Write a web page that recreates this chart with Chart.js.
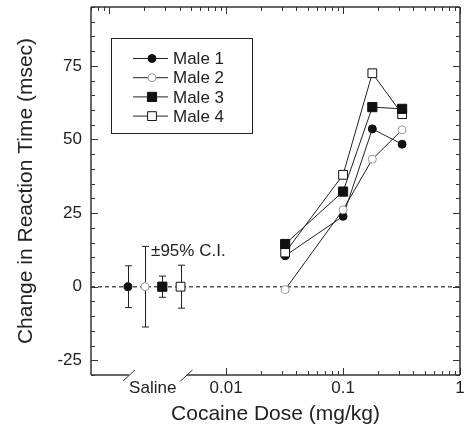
<!DOCTYPE html>
<html>
<head>
<meta charset="utf-8">
<script src="https://cdn.jsdelivr.net/npm/chart.js@4.4.0/dist/chart.umd.min.js"></script>
<style>
  html, body { margin: 0; padding: 0; background: #fff; }
  #wrap { width: 464px; height: 428px; }
</style>
</head>
<body>
<div id="wrap"><canvas id="chart" width="464" height="428"></canvas></div>
<script>
// dose-response data (mg/kg)
const doses = [0.032, 0.1, 0.178, 0.32];
const male1 = [10.5, 23.9, 53.6, 48.4];
const male2 = [-1, 26.1, 43.3, 53.3];
const male3 = [14.5, 32.3, 61, 60.4];
const male4 = [11.6, 38, 72.5, 58.6];
const seriesNames = ['Male 1', 'Male 2', 'Male 3', 'Male 4'];

// saline points sit on the broken left part of the axis
const salineX = [0.00145, 0.00203, 0.00285, 0.00408];
const salineMean = [0, 0, 0, 0];
const salineCI = [7.1, 13.7, 3.6, 7.3];
const ciLabel = '\u00b195% C.I.';

const xTickValues = [0.00236, 0.01, 0.1, 1];
const xTickLabels = ['Saline', '0.01', '0.1', '1'];
const axisBreaks = [0.00148, 0.00459];
const yTickValues = [-25, 0, 25, 50, 75];

const FONT = "'Liberation Sans', Arial, sans-serif";
const INK = '#222';

const markerStyles = [
    { pointStyle: 'circle', radius: 4, bg: '#111', border: '#111', order: 4 },
    { pointStyle: 'circle', radius: 4, bg: '#fff', border: '#999', order: 3 },
    { pointStyle: 'rect', radius: 6.5, bg: '#111', border: '#111', order: 1 },
    { pointStyle: 'rect', radius: 6.2, bg: '#fff', border: '#111', order: 2 }
];

const allSeries = [male1, male2, male3, male4];
const datasets = [];
allSeries.forEach((vals, i) => {
    const st = markerStyles[i];
    const common = {
        pointStyle: st.pointStyle,
        pointRadius: st.radius,
        pointHoverRadius: st.radius,
        pointBackgroundColor: st.bg,
        pointBorderColor: st.border,
        pointBorderWidth: 1,
        borderColor: '#222',
        borderWidth: 1,
        order: st.order
    };
    datasets.push(Object.assign({
        label: seriesNames[i],
        data: doses.map((d, j) => ({ x: d, y: vals[j] })),
        showLine: true
    }, common));
    datasets.push(Object.assign({
        label: seriesNames[i] + ' saline',
        data: [{ x: salineX[i], y: salineMean[i] }],
        showLine: false
    }, common));
});

function line(ctx, x1, y1, x2, y2) {
    ctx.beginPath();
    ctx.moveTo(x1, y1);
    ctx.lineTo(x2, y2);
    ctx.stroke();
}

const framePlugin = {
    id: 'frame',
    beforeDatasetsDraw(chart) {
        const { ctx, chartArea: a, scales: { x, y } } = chart;
        ctx.save();
        // dashed zero line
        ctx.strokeStyle = '#555';
        ctx.lineWidth = 1.5;
        ctx.setLineDash([4, 3]);
        const y0 = y.getPixelForValue(0);
        line(ctx, a.left, y0, a.right, y0);
        ctx.setLineDash([]);
        // saline confidence intervals
        ctx.strokeStyle = INK;
        ctx.lineWidth = 1;
        salineX.forEach((sx, i) => {
            const px = Math.round(x.getPixelForValue(sx)) + 0.5;
            const top = y.getPixelForValue(salineMean[i] + salineCI[i]);
            const bot = y.getPixelForValue(salineMean[i] - salineCI[i]);
            line(ctx, px, top, px, bot);
            line(ctx, px - 3.5, top, px + 3.5, top);
            line(ctx, px - 3.5, bot, px + 3.5, bot);
        });
        ctx.restore();
    },
    afterDraw(chart) {
        const { ctx, chartArea: a, scales: { x, y } } = chart;
        ctx.save();
        ctx.strokeStyle = '#333';
        ctx.lineWidth = 1.5;
        // frame, bottom axis broken between the two slashes
        const b0 = x.getPixelForValue(axisBreaks[0]);
        const b1 = x.getPixelForValue(axisBreaks[1]);
        line(ctx, a.left, a.top, a.right, a.top);
        line(ctx, a.left, a.top, a.left, a.bottom);
        line(ctx, a.right, a.top, a.right, a.bottom);
        line(ctx, a.left, a.bottom, b0, a.bottom);
        line(ctx, b1, a.bottom, a.right, a.bottom);
        ctx.lineWidth = 1;
        axisBreaks.forEach(b => {
            const px = x.getPixelForValue(b);
            line(ctx, px - 6, a.bottom + 6, px + 6, a.bottom - 5);
        });

        // inward ticks, y
        for (let v = -30; v <= 95; v += 5) {
            const py = Math.round(y.getPixelForValue(v)) + 0.5;
            const len = v % 25 === 0 ? 7 : 4;
            line(ctx, a.left, py, a.left + len, py);
            line(ctx, a.right, py, a.right - len, py);
        }
        // inward ticks, x (top has the full log scale, bottom starts at 0.01)
        for (let e = -4; e <= 0; e++) {
            for (let m = 1; m <= 9; m++) {
                const v = m * Math.pow(10, e);
                if (v < x.min * 0.999 || v > x.max * 1.001) continue;
                const px = Math.round(x.getPixelForValue(v)) + 0.5;
                const len = m === 1 ? 7 : 4;
                line(ctx, px, a.top, px, a.top + len);
                if (v >= 0.00999) line(ctx, px, a.bottom, px, a.bottom - len);
            }
        }

        // C.I. annotation next to the widest bar
        const px2 = x.getPixelForValue(salineX[1]);
        const ty = y.getPixelForValue(salineMean[1] + salineCI[1]);
        ctx.fillStyle = INK;
        ctx.font = '17px ' + FONT;
        ctx.textAlign = 'left';
        ctx.textBaseline = 'alphabetic';
        ctx.fillText(ciLabel, px2 + 6, ty + 10);

        // legend box
        const lx = a.left + 20, ly = a.top + 31, lw = 141, lh = 95;
        ctx.lineWidth = 1;
        ctx.strokeStyle = '#222';
        ctx.strokeRect(Math.round(lx) + 0.5, Math.round(ly) + 0.5, lw, lh);
        seriesNames.forEach((name, i) => {
            const st = markerStyles[i];
            const ey = ly + 20.5 + i * 19.2;
            ctx.strokeStyle = '#222';
            line(ctx, lx + 22, ey, lx + 57, ey);
            ctx.fillStyle = st.bg;
            ctx.strokeStyle = st.border;
            const mx = lx + 41;
            ctx.beginPath();
            if (st.pointStyle === 'circle') {
                ctx.arc(mx, ey, st.radius, 0, Math.PI * 2);
            } else {
                const h = st.radius * Math.SQRT1_2;
                ctx.rect(mx - h, ey - h, 2 * h, 2 * h);
            }
            ctx.fill();
            ctx.stroke();
            ctx.fillStyle = INK;
            ctx.textBaseline = 'middle';
            ctx.fillText(name, lx + 62, ey + 1);
        });
        ctx.restore();
    }
};

new Chart(document.getElementById('chart'), {
    type: 'scatter',
    data: { datasets },
    options: {
        responsive: false,
        animation: false,
        devicePixelRatio: 1,
        layout: {
            autoPadding: false,
            padding: { left: 0, right: 4, top: 7, bottom: 0 }
        },
        plugins: {
            legend: { display: false },
            tooltip: { enabled: false }
        },
        scales: {
            x: {
                type: 'logarithmic',
                min: 0.0007,
                max: 1,
                grid: { display: false, drawTicks: false },
                border: { display: false },
                afterBuildTicks: scale => {
                    scale.ticks = xTickValues.map(v => ({ value: v }));
                },
                afterFit: scale => {
                    scale.height = 53;
                    scale.paddingLeft = 0;
                    scale.paddingRight = 0;
                },
                ticks: {
                    autoSkip: false,
                    maxRotation: 0,
                    padding: 3,
                    color: INK,
                    font: { family: FONT, size: 17 },
                    callback: (value, index) => xTickLabels[index]
                },
                title: {
                    display: true,
                    text: 'Cocaine Dose (mg/kg)',
                    color: INK,
                    font: { family: FONT, size: 21 },
                    padding: { top: 0, bottom: 1 }
                }
            },
            y: {
                min: -30,
                max: 95,
                grid: { display: false, drawTicks: false },
                border: { display: false },
                afterBuildTicks: scale => {
                    scale.ticks = yTickValues.map(v => ({ value: v }));
                },
                afterFit: scale => {
                    scale.width = 91;
                    scale.paddingTop = 0;
                    scale.paddingBottom = 0;
                },
                ticks: {
                    padding: 9,
                    color: INK,
                    font: { family: FONT, size: 17 }
                },
                title: {
                    display: true,
                    text: 'Change in Reaction Time (msec)',
                    color: INK,
                    font: { family: FONT, size: 21 },
                    padding: { top: 14, bottom: 0 }
                }
            }
        }
    },
    plugins: [framePlugin]
});
</script>
</body>
</html>
